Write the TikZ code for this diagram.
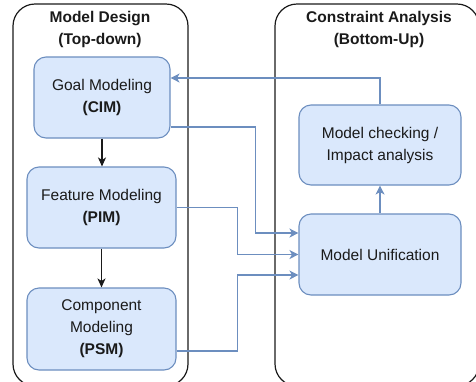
\documentclass[tikz,border=0pt]{standalone}
\usepackage{fontspec}
\setmainfont{Liberation Sans}
\usepackage{xcolor}
\usepackage{tikz}
\usetikzlibrary{arrows.meta}
\definecolor{boxfill}{HTML}{DAE8FC}
\definecolor{boxline}{HTML}{6C8EBF}
\definecolor{ink}{HTML}{1A1A1A}
\tikzset{
  lane/.style={draw=ink, line width=1.2pt, rounded corners=22pt},
  stage/.style={draw=boxline, fill=boxfill, line width=1.1pt, rounded corners=12pt,
    align=center, text=ink, font=\fontsize{15.5}{22}\selectfont, inner sep=0pt},
  title/.style={align=center, text=ink, font=\fontsize{15.5}{22}\selectfont\bfseries},
  flow/.style={draw=boxline, line width=1.1pt, -{Stealth[length=9pt,width=9pt,inset=2.5pt]}},
  down/.style={draw=ink, line width=1.1pt, -{Stealth[length=9pt,width=8pt,inset=2.5pt]}}
}

\begin{document}
\begin{tikzpicture}[x=1pt, y=-1pt]
  \useasboundingbox (0,0) rectangle (476,381);
  \clip (0,0) rectangle (476,381);

  % swimlanes
  \draw[lane] (13,4) rectangle (188,386);
  \draw[lane] (275,4) rectangle (479,386);
  \node[title] (designtitle) at (100,29) {Model Design\\(Top-down)};
  \node[title] (analysistitle) at (379,29) {Constraint Analysis\\(Bottom-Up)};

  % left column
  \node[stage, minimum width=136pt, minimum height=81pt] (goal) at (102,97.5) {Goal Modeling\\\textbf{(CIM)}};
  \node[stage, minimum width=149pt, minimum height=81pt] (feature) at (101.5,207.5) {Feature Modeling\\\textbf{(PIM)}};
  \node[stage, minimum width=149pt, minimum height=82pt] (component) at (101.5,329) {Component\\Modeling\\\textbf{(PSM)}};

  % right column
  \node[stage, minimum width=162pt, minimum height=80pt] (check) at (380,145) {Model checking /\\Impact analysis};
  \node[stage, minimum width=162pt, minimum height=81pt] (unify) at (380,254.5) {Model Unification};

  \draw[down] (goal.south) -- (goal.south |- feature.north);
  \draw[down] (feature.south) -- (feature.south |- component.north);

  \draw[flow] (unify.north) -- (check.south);
  \draw[flow] (check.north) |- ([yshift=19.5pt]goal.east);
  \draw[flow] ([yshift=-29.5pt]goal.east) -| ([xshift=-43pt,yshift=21.5pt]unify.west) -- ([yshift=21.5pt]unify.west);
  \draw[flow] (feature.east) -| ([xshift=-61pt]unify.west) -- (unify.west);
  \draw[flow] ([yshift=-22pt]component.east) -| ([xshift=-61pt,yshift=-20.5pt]unify.west) -- ([yshift=-20.5pt]unify.west);
\end{tikzpicture}
\end{document}
